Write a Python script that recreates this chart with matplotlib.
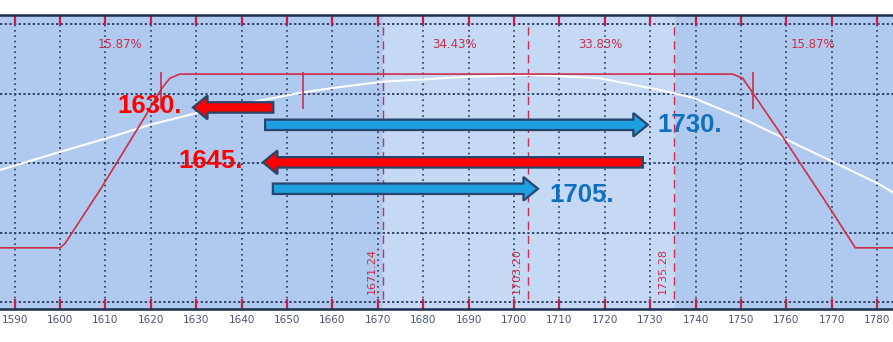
import matplotlib.pyplot as plt
from matplotlib.patches import FancyArrow

# x ticks (price levels)
ticks = list(range(1590, 1790, 10))

# red payoff line (price, value)
red_x = [1586.8, 1600.0, 1601.1, 1602.6, 1608.8, 1618.3, 1622.5, 1624.2, 1626.4,
         1748.2, 1750.4, 1752.6, 1759.3, 1769.6, 1775.2, 1783.5]
red_y = [0.78, 0.78, 0.84, 0.99, 1.61, 2.62, 3.08, 3.22, 3.28,
         3.28, 3.22, 3.01, 2.37, 1.35, 0.78, 0.78]

# white distribution curve
white_x = [1586.8, 1600.0, 1611.0, 1619.8, 1630.8, 1652.9, 1660.1, 1671.1, 1689.6,
           1704.2, 1718.9, 1732.2, 1739.4, 1749.8, 1759.3, 1769.6, 1780.0, 1783.5]
white_y = [1.90, 2.16, 2.37, 2.55, 2.73, 3.01, 3.08, 3.17, 3.24,
           3.27, 3.22, 3.05, 2.94, 2.66, 2.36, 2.04, 1.71, 1.58]

# dashed levels and zone percentages
levels = [1671.24, 1703.20, 1735.28]
level_labels = ["1671.24", "1703.20", "1735.28"]
pct_x = [1613.2, 1687.0, 1719.0, 1765.8]
pct_labels = ["15.87%", "34.43%", "33.83%", "15.87%"]

# short red markers on the payoff line
marker_x = [1622.3, 1653.5, 1752.6]

# arrows: start, end, level, label
arrow_start = [1647.0, 1645.2, 1728.4, 1646.9]
arrow_end = [1629.3, 1729.5, 1644.7, 1705.3]
arrow_y = [2.80, 2.55, 2.01, 1.63]
arrow_labels = ["1630.", "1730.", "1645.", "1705."]

RED = "#ff0000"
BLUE = "#1ea0e0"
LINE_RED = "#cc2e4c"
NARROW = ["Liberation Sans Narrow", "DejaVu Sans"]

fig = plt.figure(figsize=(8.93, 3.42), dpi=100)
ax = fig.add_axes([0, 33 / 342, 1, 294 / 342])
ax.set_xlim(1586.8, 1783.5)
ax.set_ylim(-0.10, 4.13)
ax.set_facecolor("#b0c9ee")
ax.axvspan(levels[0], levels[2], color="#c5d8f4", zorder=0)

# grid
for t in ticks:
    ax.axvline(t, color="#2d3a58", lw=1.2, ls=(0, (1, 2.2)), zorder=1)
for g in range(5):
    ax.axhline(g, color="#36466a", lw=1.4, ls=(0, (1.2, 1.2)), zorder=1)

# dashed levels
for lv, lab in zip(levels, level_labels):
    ax.vlines(lv, 0.05, 4.0, color=LINE_RED, lw=1.0, ls=(0, (6, 4)), zorder=2)
    ax.text(lv - 2.5, 0.12, lab, rotation=90, ha="center", va="bottom",
            fontsize=8, color=LINE_RED, family=NARROW)

for px, lab in zip(pct_x, pct_labels):
    ax.text(px, 3.70, lab, ha="center", va="center", fontsize=8.5, color=LINE_RED,
            family=NARROW)

ax.plot(white_x, white_y, color="white", lw=1.5, zorder=3)
ax.plot(red_x, red_y, color=LINE_RED, lw=1.2, zorder=3)
ax.vlines(marker_x, 2.78, 3.31, color=LINE_RED, lw=1.2, zorder=3)

# arrows with labels
for xs, xe, y, lab in zip(arrow_start, arrow_end, arrow_y, arrow_labels):
    left = xe < xs
    color = RED if left else BLUE
    ax.add_patch(FancyArrow(xs, y, xe - xs, 0, width=0.15, head_width=0.34,
                            head_length=3.2, length_includes_head=True,
                            facecolor=color, edgecolor="#27456e", lw=1.6, zorder=5))
    txt_color = RED if left else "#1070c0"
    if left:
        gap = -2.4 if lab == "1630." else -4.4
        ax.text(xe + gap, y - 0.08, lab, ha="right", va="baseline", fontsize=18.5,
                fontweight="bold", color=txt_color, family="Liberation Sans", zorder=6)
    else:
        gap = 2.2 if lab == "1730." else 2.6
        dy = 0.10 if lab == "1730." else 0.19
        ax.text(xe + gap, y - dy, lab, ha="left", va="baseline", fontsize=18.5,
                fontweight="bold", color=txt_color, family="Liberation Sans", zorder=6)

# axes frame
ax.set_xticks(ticks)
ax.set_yticks([])
ax.tick_params(axis="x", direction="in", length=7, width=1.6, color="#c8204a",
               top=True, labelsize=7.5, labelcolor="#4a5578", pad=4)
for lbl in ax.get_xticklabels():
    lbl.set_family(NARROW)
for side in ["top", "bottom"]:
    ax.spines[side].set_color("#1c2f4f")
    ax.spines[side].set_linewidth(1.8)
for side in ["left", "right"]:
    ax.spines[side].set_visible(False)

fig.savefig("out.png", dpi=100)
